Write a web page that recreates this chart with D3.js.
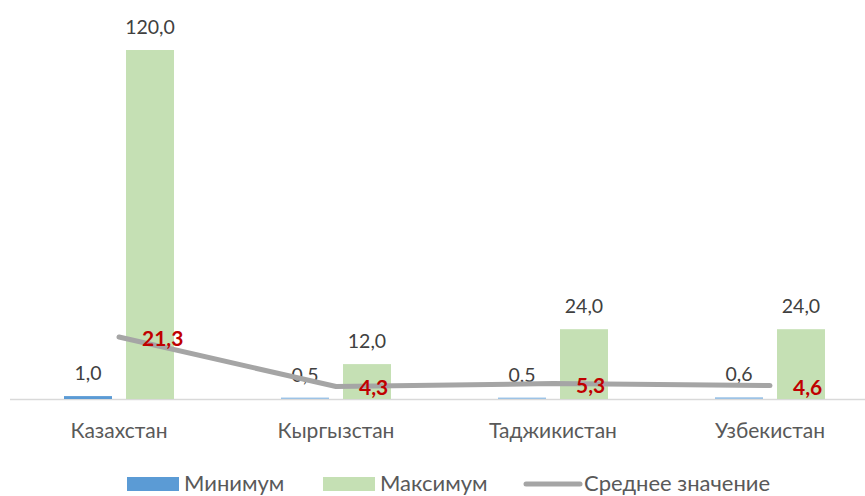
<!DOCTYPE html>
<html>
<head>
<meta charset="utf-8">
<script src="https://cdn.jsdelivr.net/npm/d3@7"></script>
<style>
  body { margin: 0; background: #fff; }
  text { font-family: Lato, "Open Sans", sans-serif; }
</style>
</head>
<body>
<div id="chart"></div>
<script>
var countries = ["Казахстан", "Кыргызстан", "Таджикистан", "Узбекистан"];
var minValues = [1.0, 0.5, 0.5, 0.6];
var maxValues = [120.0, 12.0, 24.0, 24.0];
var avgValues = [21.3, 4.3, 5.3, 4.6];
var seriesNames = ["Минимум", "Максимум", "Среднее значение"];

var fmt = function(v) { return v.toFixed(1).replace(".", ","); };

var svg = d3.select("#chart").append("svg")
  .attr("width", 865)
  .attr("height", 496);

var x = d3.scaleBand()
  .domain(countries)
  .range([10.5, 878.5]);

var y = d3.scaleLinear()
  .domain([0, 120])
  .range([399, 50]);

var barW = 48;

// axis line
svg.append("line")
  .attr("x1", 10).attr("x2", 865)
  .attr("y1", 399.5).attr("y2", 399.5)
  .attr("stroke", "#d9d9d9")
  .attr("stroke-width", 1.5);

var groups = svg.selectAll("g.cat")
  .data(countries)
  .enter()
  .append("g")
  .attr("class", "cat");

// min bars
groups.append("rect")
  .attr("x", function(d) { return x(d) + x.bandwidth()/2 - 31 - barW/2; })
  .attr("y", function(d, i) { return y(minValues[i]); })
  .attr("width", barW)
  .attr("height", function(d, i) { return y(0) - y(minValues[i]); })
  .attr("fill", function(d, i) { return i == 0 ? "#5b9bd5" : "#9dc3e6"; });

// max bars
groups.append("rect")
  .attr("x", function(d) { return x(d) + x.bandwidth()/2 + 31 - barW/2; })
  .attr("y", function(d, i) { return y(maxValues[i]); })
  .attr("width", barW)
  .attr("height", function(d, i) { return y(0) - y(maxValues[i]); })
  .attr("fill", "#c5e0b4");

// bar labels
groups.append("text")
  .attr("x", function(d) { return x(d) + x.bandwidth()/2 - 31; })
  .attr("y", function(d, i) { return y(minValues[i]) - 16; })
  .attr("text-anchor", "middle")
  .style("font-size", "19.5px")
  .style("fill", "#404040")
  .text(function(d, i) { return fmt(minValues[i]); });

groups.append("text")
  .attr("x", function(d) { return x(d) + x.bandwidth()/2 + 31; })
  .attr("y", function(d, i) { return y(maxValues[i]) - 16; })
  .attr("text-anchor", "middle")
  .style("font-size", "19.5px")
  .style("fill", "#404040")
  .text(function(d, i) { return fmt(maxValues[i]); });

// category labels
groups.append("text")
  .attr("x", function(d) { return x(d) + x.bandwidth()/2; })
  .attr("y", 438)
  .attr("text-anchor", "middle")
  .style("font-size", "21px")
  .style("fill", "#595959")
  .text(function(d) { return d; });

// average line
var line = d3.line()
  .x(function(d, i) { return x(countries[i]) + x.bandwidth()/2; })
  .y(function(d) { return y(d); });

svg.append("path")
  .datum(avgValues)
  .attr("d", line)
  .attr("fill", "none")
  .attr("stroke", "#a5a5a5")
  .attr("stroke-width", 5)
  .attr("stroke-linecap", "round")
  .attr("stroke-linejoin", "round");

svg.selectAll("text.avg")
  .data(avgValues)
  .enter()
  .append("text")
  .attr("class", "avg")
  .attr("x", function(d, i) { return x(countries[i]) + x.bandwidth()/2 + 23; })
  .attr("y", function(d) { return y(d) + 9; })
  .style("font-size", "21px")
  .style("font-weight", "bold")
  .style("fill", "#c00000")
  .text(function(d) { return fmt(d); });

// legend
var legend = svg.append("g");
legend.append("rect")
  .attr("x", 127).attr("y", 477).attr("width", 52).attr("height", 14)
  .attr("fill", "#5b9bd5");
legend.append("text")
  .attr("x", 184).attr("y", 491)
  .style("font-size", "22px").style("fill", "#595959")
  .text(seriesNames[0]);
legend.append("rect")
  .attr("x", 323).attr("y", 477).attr("width", 52).attr("height", 14)
  .attr("fill", "#c5e0b4");
legend.append("text")
  .attr("x", 380).attr("y", 491)
  .style("font-size", "22px").style("fill", "#595959")
  .text(seriesNames[1]);
legend.append("line")
  .attr("x1", 526).attr("x2", 580).attr("y1", 484).attr("y2", 484)
  .attr("stroke", "#a5a5a5").attr("stroke-width", 5)
  .attr("stroke-linecap", "round");
legend.append("text")
  .attr("x", 584).attr("y", 491)
  .style("font-size", "22px").style("fill", "#595959")
  .text(seriesNames[2]);
</script>
</body>
</html>
